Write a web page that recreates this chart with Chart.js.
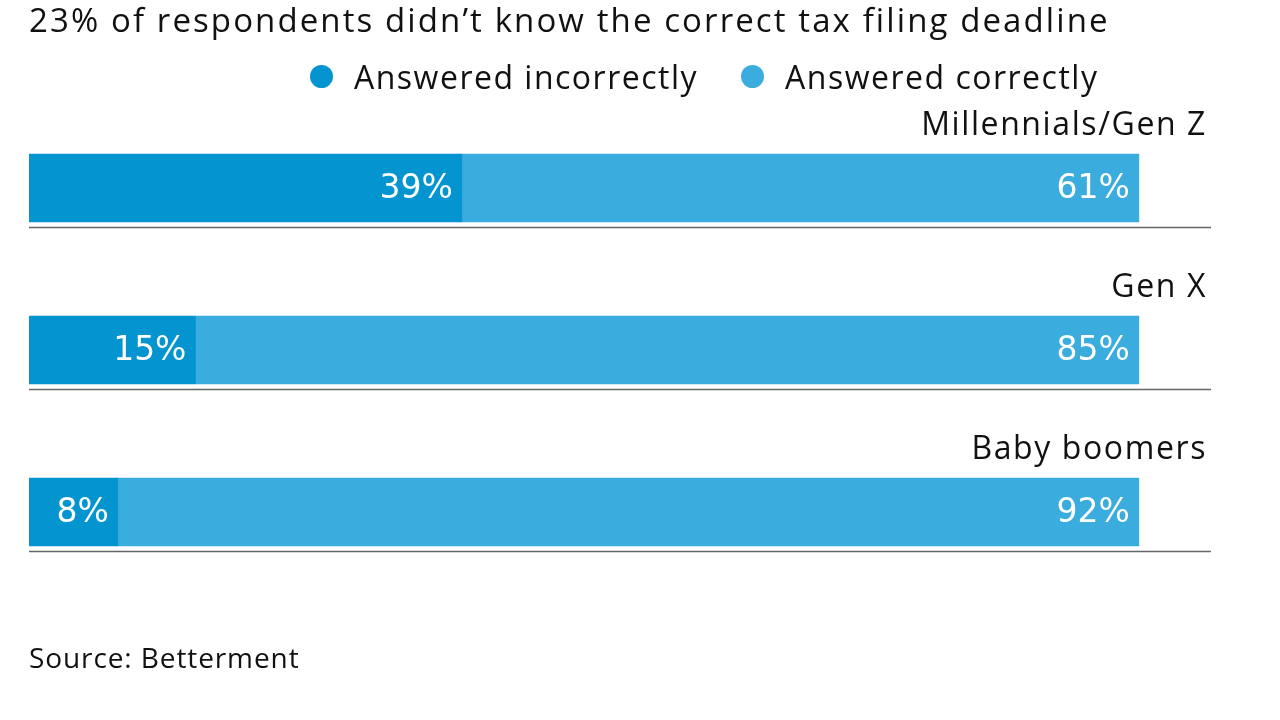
<!DOCTYPE html>
<html>
<head>
<meta charset="utf-8">
<script src="https://cdn.jsdelivr.net/npm/chart.js@4/dist/chart.umd.min.js"></script>
<style>
  html, body { margin: 0; padding: 0; background: #fff; }
  #wrap { position: relative; width: 1280px; height: 720px; overflow: hidden; }
  #chart { position: absolute; left: 0; top: 0; }
  .title { position: absolute; left: 29px; top: -3px; font: 33px "Open Sans", sans-serif; letter-spacing: 2.1px; color: #111; white-space: nowrap; }
  .legend { position: absolute; left: 310px; top: 55px; font: 32px "Open Sans", sans-serif; letter-spacing: 1.5px; color: #111; white-space: nowrap; display: flex; align-items: center; }
  .legend span.dot { display: inline-block; width: 23px; height: 23px; border-radius: 50%; margin-right: 21px; }
  .legend span.item { display: flex; align-items: center; margin-right: 43px; }
  .source { position: absolute; left: 29px; top: 638px; font: 28px "Open Sans", sans-serif; letter-spacing: 0.9px; color: #111; white-space: nowrap; }
</style>
</head>
<body>
<div id="wrap">
  <canvas id="chart" width="1280" height="720"></canvas>
  <div class="title">23% of respondents didn’t know the correct tax filing deadline</div>
  <div class="legend" id="legend"></div>
  <div class="source">Source: Betterment</div>
</div>
<script>
const categories = ["Millennials/Gen Z", "Gen X", "Baby boomers"];
const incorrect = [39, 15, 8];
const correct = [61, 85, 92];
const seriesNames = ["Answered incorrectly", "Answered correctly"];
const seriesColors = ["#0494cf", "#3aacde"];

// legend as plain html
const legendEl = document.getElementById("legend");
seriesNames.forEach((name, i) => {
  legendEl.innerHTML += `<span class="item"><span class="dot" style="background:${seriesColors[i]}"></span>${name}</span>`;
});

// category names above bars, rule below, values inside
const barDecor = {
  id: "barDecor",
  afterDatasetsDraw(chart) {
    const ctx = chart.ctx;
    const area = chart.chartArea;
    const first = chart.getDatasetMeta(0);
    ctx.save();
    first.data.forEach((bar, i) => {
      const top = bar.y - bar.height / 2;
      const bottom = bar.y + bar.height / 2;
      ctx.fillStyle = "#111";
      ctx.font = "32px 'Open Sans', sans-serif";
      ctx.letterSpacing = "1.6px";
      ctx.textAlign = "right";
      ctx.textBaseline = "middle";
      ctx.fillText(categories[i], area.right - 4, top - 28);

      ctx.strokeStyle = "#666";
      ctx.lineWidth = 1.5;
      ctx.beginPath();
      ctx.moveTo(area.left, bottom + 5.5);
      ctx.lineTo(area.right, bottom + 5.5);
      ctx.stroke();
    });
    ctx.letterSpacing = "0px";
    chart.data.datasets.forEach((ds, d) => {
      chart.getDatasetMeta(d).data.forEach((bar, i) => {
        ctx.fillStyle = "#fff";
        ctx.font = "33px 'DejaVu Sans', sans-serif";
        ctx.textAlign = "right";
        ctx.textBaseline = "middle";
        ctx.fillText(ds.data[i] + "%", bar.x - 9, bar.y + 1);
      });
    });
    ctx.restore();
  }
};

new Chart(document.getElementById("chart"), {
  type: "bar",
  data: {
    labels: categories,
    datasets: [
      { label: seriesNames[0], data: incorrect, backgroundColor: seriesColors[0], barThickness: 68 },
      { label: seriesNames[1], data: correct, backgroundColor: seriesColors[1], barThickness: 68 },
    ],
  },
  options: {
    indexAxis: "y",
    responsive: false,
    animation: false,
    layout: { padding: { left: 29, right: 69, top: 107, bottom: 127 } },
    scales: {
      x: { stacked: true, min: 0, max: 106.5, display: false },
      y: { stacked: true, display: false },
    },
    plugins: {
      legend: { display: false },
      tooltip: { enabled: false },
    },
  },
  plugins: [barDecor],
});
</script>
</body>
</html>
